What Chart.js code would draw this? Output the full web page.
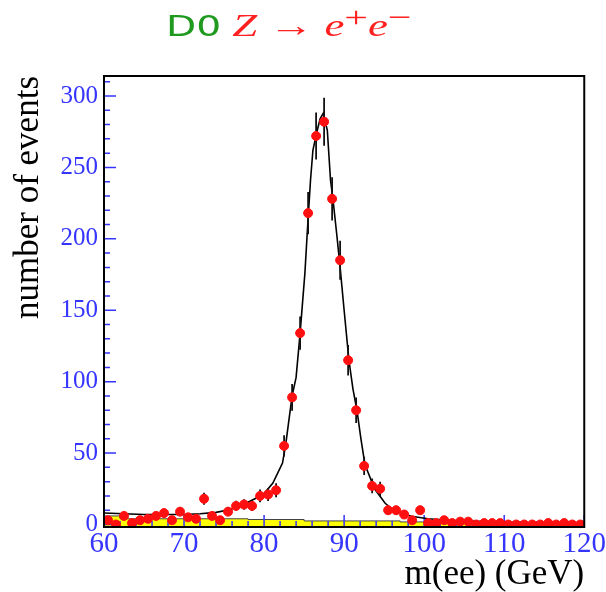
<!DOCTYPE html>
<html>
<head>
<meta charset="utf-8">
<script src="https://cdn.jsdelivr.net/npm/chart.js@4"></script>
<style>
  body { margin: 0; background: #fff; }
  #wrap { position: relative; width: 606px; height: 592px; }
  #title { position: absolute; left: 166px; top: 7px; white-space: nowrap; transform: scaleX(1.4); transform-origin: left top; }
  #title .d0 { font-family: "DejaVu Sans", sans-serif; font-size: 28px; color: #1f9a1f; }
  #title .z { font-family: "Liberation Serif", serif; font-size: 32px; color: #ff2020; font-style: italic; margin-left: 8px; }
  #title .arr { font-style: normal; }
  #title sup { font-size: 30px; font-style: normal; vertical-align: 9px; line-height: 0; }
</style>
</head>
<body>
<div id="wrap">
  <div id="title"><span class="d0">D0</span><span class="z">Z <span class="arr">→</span> e<sup>+</sup>e<sup>−</sup></span></div>
  <canvas id="myChart" width="606" height="592"></canvas>
</div>
<script>
// bin centres of the data histogram (GeV)
var binCenters = [60.5, 61.5, 62.5, 63.5, 64.5, 65.5, 66.5, 67.5, 68.5, 69.5,
                  70.5, 71.5, 72.5, 73.5, 74.5, 75.5, 76.5, 77.5, 78.5, 79.5,
                  80.5, 81.5, 82.5, 83.5, 84.5, 85.5, 86.5, 87.5, 88.5, 89.5,
                  90.5, 91.5, 92.5, 93.5, 94.5, 95.5, 96.5, 97.5, 98.5, 99.5,
                  100.5, 101.5, 102.5, 103.5, 104.5, 105.5, 106.5, 107.5, 108.5, 109.5,
                  110.5, 111.5, 112.5, 113.5, 114.5, 115.5, 116.5, 117.5, 118.5, 119.5];
// events per bin (red points)
var eventCounts = [3, 0, 6, 1, 3, 4, 6, 8, 3, 9,
                   5, 4, 18, 6, 3, 9, 13, 14, 13, 20,
                   21, 24, 55, 89, 134, 218, 272, 282, 228, 185,
                   115, 80, 41, 27, 25, 10, 10, 7, 3, 10,
                   1, 1, 3, 1, 2, 2, 0, 1, 1, 1,
                   0, 0, 0, 0, 0, 1, 0, 1, 0, 0];
// fitted line shape (black)
var fitX = [60, 65, 70, 72, 74, 75.8, 77.8, 79.9, 81.1, 82.3, 82.7, 83.5, 84, 84.5, 85.1, 85.4, 85.8, 86.1, 86.6,
            87.0, 87.4, 87.9, 88.3, 88.6, 89.1, 89.5, 90, 90.6, 91.1, 91.6, 92.1, 92.6, 93.8, 95.1, 96.3, 98.4,
            100.5, 103, 106.7, 113.3, 120];
var fitY = [8, 7, 7, 7.5, 8.5, 10.5, 15, 21, 29, 43, 56, 90, 103, 134, 176, 205, 241, 262, 275,
            284, 288, 276, 241, 228, 202, 180, 150, 115, 95, 80, 60, 42, 25, 15, 9.3, 5.8,
            4, 3, 2.3, 1.2, 1];
// background histogram (yellow): left bin edges and heights
var bkgEdges = [60, 62, 78, 85, 97, 107, 120];
var bkgHeights = [6, 4, 3.5, 2.5, 1.8, 1.2, 1.2];
// axis ticks
var xTicks = [60, 70, 80, 90, 100, 110, 120];
var yTicks = [0, 50, 100, 150, 200, 250, 300];

var blue = '#3535ff';
var serif = "'Liberation Serif', 'Times New Roman', serif";

var points = [];
for (let i = 0; i < binCenters.length; i++) {
    points.push({x: binCenters[i], y: eventCounts[i]});
}
var fitLine = [];
for (let i = 0; i < fitX.length; i++) {
    fitLine.push({x: fitX[i], y: fitY[i]});
}
var bkg = [];
for (let i = 0; i < bkgEdges.length; i++) {
    bkg.push({x: bkgEdges[i], y: bkgHeights[i]});
}

// blue inward ticks + error bars + frame
var framePlugin = {
    id: 'frame',
    afterDatasetDraw: function (chart, args) {
        var ctx = chart.ctx;
        var a = chart.chartArea;
        var xs = chart.scales.x, ys = chart.scales.y;
        if (args.index === 2) {
            ctx.save();
            ctx.strokeStyle = blue;
            ctx.lineWidth = 1.5;
            ctx.beginPath();
            for (let v = 0; v <= 310; v += 10) {
                var py = ys.getPixelForValue(v);
                var len = (v % 50 === 0) ? 12 : 6;
                ctx.moveTo(a.left, py);
                ctx.lineTo(a.left + len, py);
            }
            for (let v = 60; v <= 120; v += 2) {
                var px = xs.getPixelForValue(v);
                var l = (v % 10 === 0) ? 12 : 6;
                ctx.moveTo(px, a.bottom);
                ctx.lineTo(px, a.bottom - l);
            }
            ctx.stroke();
            ctx.restore();
        }
        if (args.index === 1) {
            ctx.save();
            ctx.beginPath();
            ctx.rect(a.left, a.top, a.right - a.left, a.bottom - a.top);
            ctx.clip();
            ctx.strokeStyle = '#111';
            ctx.lineWidth = 1.8;
            ctx.beginPath();
            for (let i = 0; i < binCenters.length; i++) {
                var n = eventCounts[i];
                var err = Math.sqrt(Math.max(n, 1));
                var cx = xs.getPixelForValue(binCenters[i]);
                var cy = ys.getPixelForValue(n);
                ctx.moveTo(cx, ys.getPixelForValue(n + err));
                ctx.lineTo(cx, ys.getPixelForValue(Math.max(n - err, -2)));
                ctx.moveTo(xs.getPixelForValue(binCenters[i] - 0.5), cy);
                ctx.lineTo(xs.getPixelForValue(binCenters[i] + 0.5), cy);
            }
            ctx.stroke();
            ctx.restore();
        }
    },
    afterDatasetsDraw: function (chart) {
        var ctx = chart.ctx;
        var a = chart.chartArea;
        ctx.save();
        ctx.strokeStyle = '#000';
        ctx.lineWidth = 2;
        ctx.strokeRect(a.left, a.top, a.right - a.left, a.bottom - a.top);
        ctx.restore();
    }
};

const ctx = document.getElementById('myChart');
new Chart(ctx, {
    type: 'scatter',
    data: {
        datasets: [{
            label: 'data',
            data: points,
            backgroundColor: '#ff1010',
            borderColor: '#ff1010',
            pointRadius: 4.5,
            pointStyle: 'circle'
        }, {
            type: 'line',
            label: 'fit',
            data: fitLine,
            borderColor: '#000',
            borderWidth: 1.6,
            pointRadius: 0,
            fill: false,
            tension: 0
        }, {
            type: 'line',
            label: 'background',
            data: bkg,
            stepped: true,
            fill: 'start',
            backgroundColor: '#ffff00',
            borderColor: '#444',
            borderWidth: 1,
            pointRadius: 0
        }]
    },
    options: {
        responsive: false,
        animation: false,
        layout: { padding: { top: 76, right: 19, left: 0, bottom: 0 } },
        plugins: {
            legend: { display: false },
            tooltip: { enabled: false }
        },
        scales: {
            x: {
                type: 'linear',
                min: 60,
                max: 120,
                afterBuildTicks: function (s) { s.ticks = xTicks.map(function (v) { return {value: v}; }); },
                afterFit: function (s) { s.height = 65; },
                ticks: {
                    color: blue,
                    font: { family: serif, size: 29 },
                    padding: 0,
                    maxRotation: 0
                },
                grid: { display: false, drawTicks: false },
                border: { display: false },
                title: {
                    display: true,
                    text: 'm(ee) (GeV)',
                    align: 'end',
                    color: '#000',
                    font: { family: serif, size: 35, lineHeight: 1.0 },
                    padding: { top: 0, bottom: 0 }
                }
            },
            y: {
                min: -1.75,
                max: 314,
                afterBuildTicks: function (s) { s.ticks = yTicks.map(function (v) { return {value: v}; }); },
                afterFit: function (s) { s.width = 104; },
                ticks: {
                    color: blue,
                    font: { family: serif, size: 25 },
                    padding: 6
                },
                grid: { display: false, drawTicks: false },
                border: { display: false },
                title: {
                    display: true,
                    text: 'number of events',
                    align: 'end',
                    color: '#000',
                    font: { family: serif, size: 35 },
                    padding: { top: 8, bottom: 0 }
                }
            }
        }
    },
    plugins: [framePlugin]
});
</script>
</body>
</html>
